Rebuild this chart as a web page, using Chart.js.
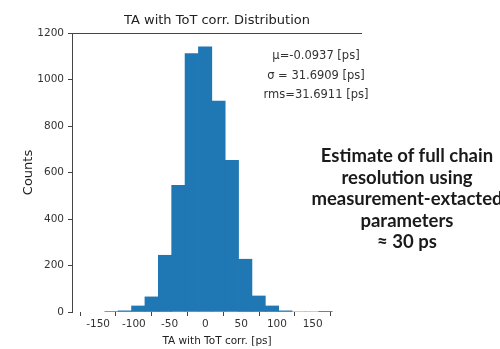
<!DOCTYPE html>
<html>
<head>
<meta charset="utf-8">
<script src="https://cdn.jsdelivr.net/npm/chart.js@4.4.1/dist/chart.umd.min.js"></script>
<style>
  body { margin: 0; background: #fff; }
  #wrap { position: relative; width: 500px; height: 349px; overflow: hidden; }
  #histo { position: absolute; left: 0; top: 0; }
  .stats { position: absolute; left: 236px; width: 160px; text-align: center;
           font-family: "DejaVu Sans", sans-serif; font-size: 11.5px; color: #333; }
  .note { position: absolute; left: 297px; width: 220px; text-align: center;
          font-family: Lato, "Open Sans", sans-serif; font-weight: bold; font-size: 18.5px;
          line-height: 21.5px; color: #1a1a1a; top: 145px; }
</style>
</head>
<body>
<div id="wrap">
  <canvas id="histo" width="500" height="349"></canvas>
  <div class="stats" style="top:48px">μ=-0.0937 [ps]</div>
  <div class="stats" style="top:68px">σ = 31.6909 [ps]</div>
  <div class="stats" style="top:87px">rms=31.6911 [ps]</div>
  <div class="note">Estimate of full chain<br>resolution using<br>measurement-extacted<br>parameters<br>≈ 30 ps</div>
</div>
<script>
// histogram
const binEdges = [-140.6, -121.9, -103.2, -84.5, -65.8, -47.1, -28.4, -9.7, 9.0, 27.7,
                  46.4, 65.1, 83.8, 102.5, 121.2, 139.9, 158.6, 177.3];
const counts = [2, 5, 26, 65, 244, 545, 1111, 1140, 907, 652, 227, 69, 26, 5, 0, 0, 1];
const xTicks = [-150, -100, -50, 0, 50, 100, 150];
const yTicks = [0, 200, 400, 600, 800, 1000, 1200];

const points = counts.map((c, i) => ({ x: (binEdges[i] + binEdges[i + 1]) / 2, y: c }));
const fam = "'DejaVu Sans', sans-serif";
const axisColor = "#444";

// only the top spine is visible in the picture
const topFrame = {
  id: "topFrame",
  afterDraw(chart) {
    const { ctx, chartArea } = chart;
    ctx.save();
    ctx.strokeStyle = axisColor;
    ctx.lineWidth = 1;
    ctx.beginPath();
    ctx.moveTo(chartArea.left, chartArea.top + 0.5);
    ctx.lineTo(chartArea.right, chartArea.top + 0.5);
    ctx.stroke();
    ctx.restore();
  }
};

new Chart(document.getElementById("histo"), {
  type: "bar",
  data: {
    datasets: [{
      data: points,
      backgroundColor: "#1f77b4",
      borderWidth: 0,
      barPercentage: 1,
      categoryPercentage: 1
    }]
  },
  options: {
    responsive: false,
    animation: false,
    layout: { padding: { left: 0, right: 138, top: 0, bottom: 0 } },
    plugins: {
      legend: { display: false },
      tooltip: { enabled: false },
      title: {
        display: true,
        text: "TA with ToT corr. Distribution",
        fullSize: false,
        color: "#222",
        font: { family: fam, size: 13, weight: "normal" },
        padding: { top: 13, bottom: 4.4 }
      }
    },
    scales: {
      x: {
        type: "linear",
        min: -157.5,
        max: 190,
        afterFit: s => { s.height = 37; },
        afterBuildTicks: s => { s.ticks = xTicks.map(v => ({ value: v })); },
        ticks: { color: "#333", font: { family: fam, size: 10.5 }, padding: 2 },
        grid: { display: true, drawOnChartArea: false, tickLength: 4, color: axisColor },
        border: { display: false },
        title: {
          display: true,
          text: "TA with ToT corr. [ps]",
          color: "#222",
          font: { family: fam, size: 10.5 },
          padding: { top: 0, bottom: 1.5 }
        }
      },
      y: {
        min: 0,
        max: 1200,
        afterFit: s => { s.width = 72; },
        afterBuildTicks: s => { s.ticks = yTicks.map(v => ({ value: v })); },
        ticks: { color: "#333", font: { family: fam, size: 10.5 }, padding: 4, callback: v => String(v) },
        grid: { display: true, drawOnChartArea: false, tickLength: 4, color: axisColor },
        border: { display: true, color: axisColor, width: 1 },
        title: {
          display: true,
          text: "Counts",
          color: "#222",
          font: { family: fam, size: 13 },
          padding: { top: 21, bottom: 0 }
        }
      }
    }
  },
  plugins: [topFrame]
});
</script>
</body>
</html>
